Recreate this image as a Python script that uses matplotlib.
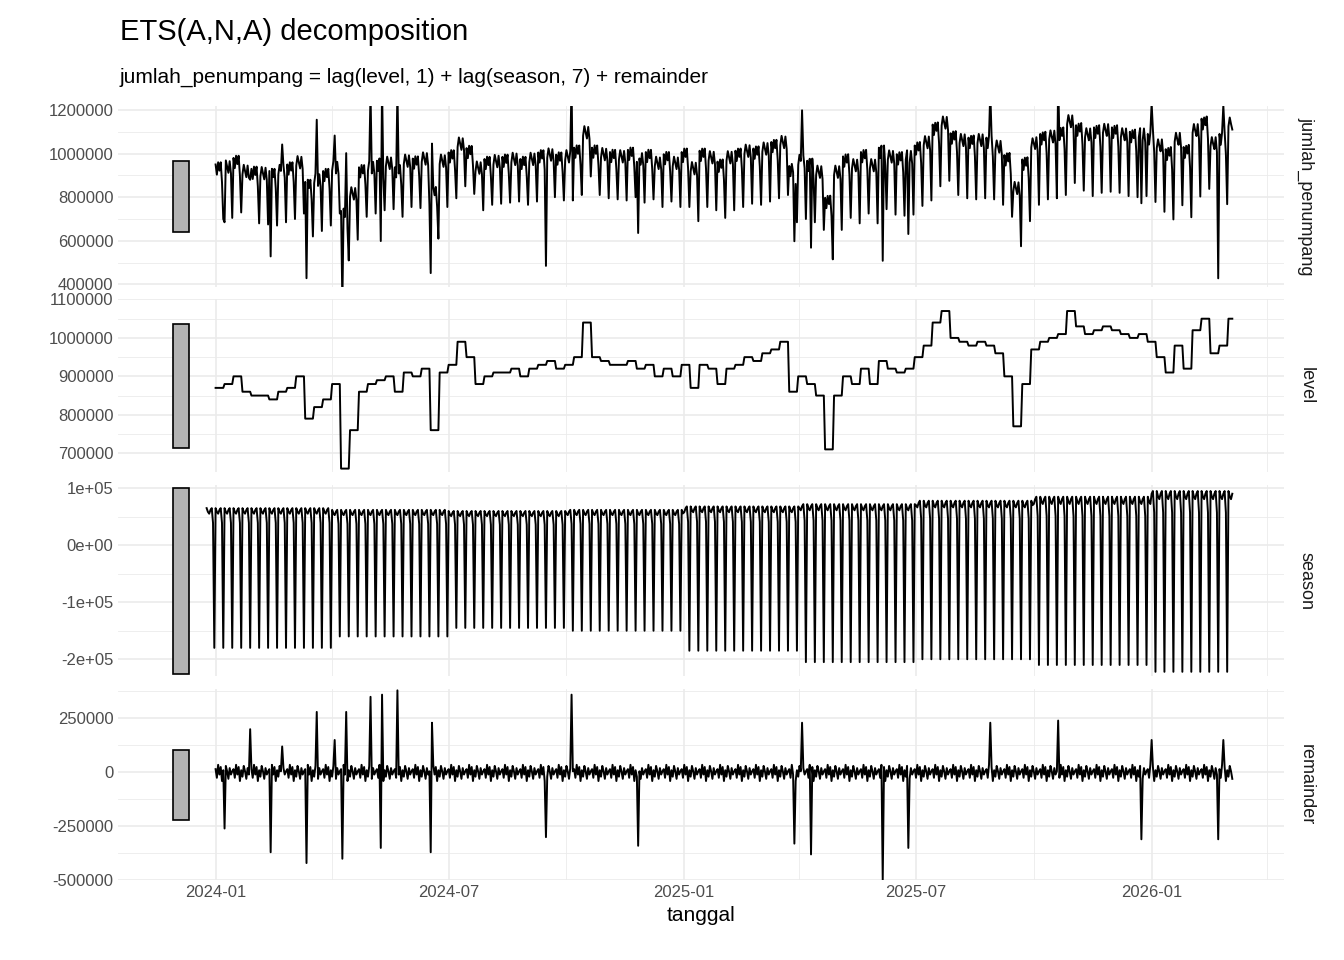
import numpy as np
import pandas as pd
import matplotlib
matplotlib.use("Agg")
import matplotlib.pyplot as plt
import matplotlib.dates as mdates

# weekly level values, starting 2024-01-01
level_weekly = [870, 880, 900, 860, 850, 850, 840, 860, 870, 900, 790, 820, 840, 880,
                660, 760, 860, 880, 890, 900, 860, 910, 900, 920, 760, 910, 930,
                990, 950, 880, 900, 910, 910, 920, 900, 920, 930, 940, 920, 930, 950,
                1040, 950, 940, 930, 930, 940, 920, 930, 900, 920, 900, 930, 870,
                930, 920, 880, 920, 930, 950, 940, 960, 970, 990, 860, 900, 880, 850,
                710, 850, 900, 880, 920, 880, 940, 920, 910, 920, 950, 980, 1040,
                1070, 1000, 990, 980, 990, 980, 960, 900, 770, 880, 970, 990, 1000, 1010,
                1070, 1030, 1010, 1020, 1030, 1020, 1010, 1000, 1010, 990, 950, 910, 980, 920,
                1020, 1050, 960, 980, 1050, 1080, 860, 950, 1000]

# seasonal peak / trough per quarter (thousands), 2024Q1 .. 2026Q1
season_peak = [65, 62, 60, 62, 68, 72, 78, 85, 95]
season_trough = [-180, -160, -145, -150, -185, -205, -200, -210, -222]
season_shape = [1.0, 0.9, 0.85, 0.95, 1.0, 0.6, -1.0]

# remainder: small repeating weekly noise plus notable spikes (thousands)
remainder_base = [15, -25, 35, -10, 25, -40, 10, -20, 30, 5, -30, 20, -10, 5]
remainder_spikes = [("2024-01-08", -260), ("2024-01-28", 200), ("2024-02-13", -370),
                    ("2024-02-22", 120), ("2024-03-12", -420), ("2024-03-20", 280),
                    ("2024-04-03", 150), ("2024-04-09", -400), ("2024-04-12", 280),
                    ("2024-05-01", 350), ("2024-05-09", -350), ("2024-05-10", 360),
                    ("2024-05-22", 380), ("2024-06-17", -370), ("2024-06-18", 230),
                    ("2024-09-15", -300), ("2024-10-05", 360), ("2024-11-26", -340),
                    ("2025-03-28", -330), ("2025-04-03", 230), ("2025-04-10", -380),
                    ("2025-06-05", -500), ("2025-06-25", -350), ("2025-08-28", 230),
                    ("2025-10-20", 240), ("2025-12-24", -310), ("2026-01-01", 150),
                    ("2026-02-22", -310), ("2026-02-26", 150)]

start = pd.Timestamp("2024-01-01")
dates = pd.date_range(start, "2026-03-05", freq="D")
n = len(dates)

level = np.repeat(np.array(level_weekly, float) * 1000, 7)[:n]
level = np.concatenate([level, np.full(max(0, n - len(level)), level[-1])])

sdates = pd.date_range("2023-12-25", dates[-1], freq="D")
season = []
for d in sdates:
    q = min(max((d.year - 2024) * 4 + (d.month - 1) // 3, 0), len(season_peak) - 1)
    w = season_shape[d.dayofweek]
    season.append((w * season_peak[q] if w > 0 else season_trough[q]) * 1000)
season = np.array(season)

remainder = np.array([remainder_base[i % len(remainder_base)] * 1000.0 for i in range(n)])
for ds, v in remainder_spikes:
    remainder[(pd.Timestamp(ds) - start).days] = v * 1000

observed = level + season[7:] + remainder

# figure
plt.rcParams["font.family"] = ["Liberation Sans", "DejaVu Sans"]
fig = plt.figure(figsize=(13.44, 9.6), dpi=100)
heights = [180, 172, 190, 190]
gs = fig.add_gridspec(4, 1, left=0.088, right=0.955, top=0.89, bottom=0.083,
                      height_ratios=heights, hspace=0.07)
panels = [("jumlah_penumpang", dates, observed, (390000, 1220000), [400000, 600000, 800000, 1000000, 1200000]),
          ("level", dates, level, (650000, 1100000), [700000, 800000, 900000, 1000000, 1100000]),
          ("season", sdates, season, (-230000, 105000), [-200000, -100000, 0, 100000]),
          ("remainder", dates, remainder, (-500000, 385000), [-500000, -250000, 0, 250000])]
fmt = {"season": lambda v: {-200000: "-2e+05", -100000: "-1e+05", 0: "0e+00", 100000: "1e+05"}[v]}
bar_h = 325000
axes = []
for i, (name, x, y, lim, ticks) in enumerate(panels):
    ax = fig.add_subplot(gs[i], sharex=axes[0] if axes else None)
    axes.append(ax)
    ax.plot(x, y, color="black", lw=1.4)
    ax.set_yticks(ticks)
    ax.set_yticklabels([fmt[name](t) if name in fmt else str(t) for t in ticks])
    mids = [(a + b) / 2 for a, b in zip(ticks[:-1], ticks[1:])]
    ax.set_yticks(mids + [ticks[0] - (ticks[1] - ticks[0]) / 2, ticks[-1] + (ticks[1] - ticks[0]) / 2], minor=True)
    ax.set_ylim(*lim)
    c = (lim[0] + lim[1]) / 2
    ax.bar(pd.Timestamp("2023-12-05"), bar_h, bottom=c - bar_h / 2, width=12,
           color="#b3b3b3", edgecolor="black", lw=1.2, zorder=3)
    ax.grid(which="major", color="#EBEBEB", lw=1.2)
    ax.grid(which="minor", color="#EBEBEB", lw=0.6)
    ax.set_axisbelow(True)
    for s in ax.spines.values():
        s.set_visible(False)
    ax.tick_params(which="both", length=0, labelsize=12, colors="#4d4d4d")
    ax.text(1.012, 0.5, name, transform=ax.transAxes, rotation=-90, ha="left",
            va="center", fontsize=13, color="#1a1a1a")
    if i < 3:
        ax.tick_params(labelbottom=False)

ax = axes[-1]
ax.set_xlim(pd.Timestamp("2023-10-17"), pd.Timestamp("2026-04-14"))
ax.xaxis.set_major_locator(mdates.MonthLocator(bymonth=[1, 7]))
ax.xaxis.set_minor_locator(mdates.MonthLocator(bymonth=[4, 10]))
ax.xaxis.set_major_formatter(mdates.DateFormatter("%Y-%m"))
ax.set_xlabel("tanggal", fontsize=15, color="black")

fig.text(0.089, 0.958, "ETS(A,N,A) decomposition", fontsize=21, color="black")
fig.text(0.089, 0.914, "jumlah_penumpang = lag(level, 1) + lag(season, 7) + remainder",
         fontsize=15, color="black")
fig.savefig("out.png", dpi=100)
